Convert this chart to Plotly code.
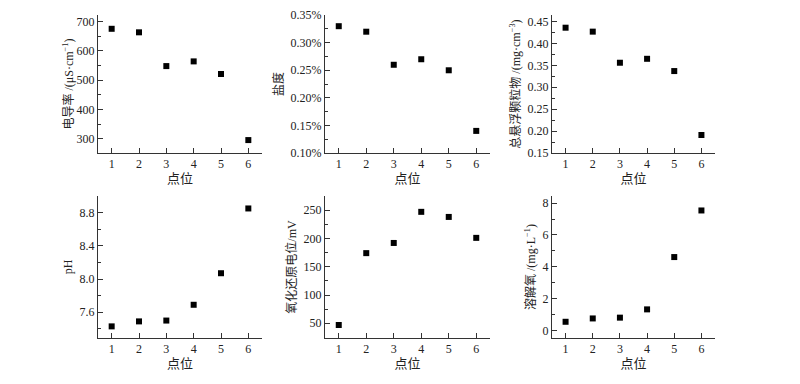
import plotly.graph_objects as go

points = [1, 2, 3, 4, 5, 6]
conductivity = [675, 663, 548, 564, 521, 296]
salinity = [0.33, 0.32, 0.26, 0.27, 0.25, 0.14]
tsp = [0.436, 0.427, 0.356, 0.365, 0.337, 0.191]
ph = [7.43, 7.49, 7.50, 7.69, 8.07, 8.85]
orp = [47, 174, 192, 247, 238, 201]
do = [0.54, 0.75, 0.80, 1.32, 4.61, 7.54]

x_title = "点位"
y_titles = [
    "电导率 /(μS·cm<sup>−1</sup>)",
    "盐度",
    "总悬浮颗粒物 /(mg·cm<sup>−3</sup>)",
    "pH",
    "氧化还原电位/mV",
    "溶解氧 /(mg·L<sup>−1</sup>)",
]
series = [conductivity, salinity, tsp, ph, orp, do]

# page body adds an 8px offset; figure is sized to fit the window
OFF = 8
W, H = 800 - OFF, 384 - OFF
cols = [(98, 262), (325, 490), (552, 715)]
rows = [(15, 153), (196, 338)]

yspecs = [
    dict(range=[252, 722], dtick=100, tick0=0, minor=50, fmt="d", suffix=""),
    dict(range=[0.0999, 0.3503], dtick=0.05, tick0=0, minor=0.025, fmt=".2f", suffix="%"),
    dict(range=[0.1499, 0.465], dtick=0.05, tick0=0, minor=0.025, fmt=".2f", suffix=""),
    dict(range=[7.29, 9.0], dtick=0.4, tick0=0, minor=0.2, fmt=".1f", suffix=""),
    dict(range=[24, 275], dtick=50, tick0=0, minor=25, fmt="d", suffix=""),
    dict(range=[-0.48, 8.45], dtick=2, tick0=0, minor=1, fmt="d", suffix=""),
]
y_standoff = [0, 4, 4, 4, 4, 4]

font_serif = "Liberation Serif, Times New Roman, serif"
font_cjk = "Liberation Serif, Noto Sans CJK SC, serif"

fig = go.Figure()
layout = dict(
    width=W, height=H,
    margin=dict(l=0, r=0, t=0, b=0, autoexpand=False),
    paper_bgcolor="white", plot_bgcolor="white",
    showlegend=False,
    font=dict(family=font_cjk, size=12, color="#222"),
)

for i, (vals, spec, ytitle) in enumerate(zip(series, yspecs, y_titles)):
    r, c = divmod(i, 3)
    x0, x1 = cols[c][0] - OFF, cols[c][1] - OFF
    y0, y1 = rows[r][0] - OFF, rows[r][1] - OFF
    n = "" if i == 0 else str(i + 1)
    fig.add_trace(go.Scatter(
        x=points, y=vals, mode="markers",
        marker=dict(symbol="square", size=6, color="black"),
        xaxis="x" + n, yaxis="y" + n,
    ))
    layout["xaxis" + n] = dict(
        domain=[x0 / W, x1 / W], anchor="y" + n,
        range=[0.5, 6.5], tickvals=points,
        ticks="inside", ticklen=5, tickcolor="#333", tickwidth=1,
        showline=True, linecolor="#333", linewidth=1,
        showgrid=False, zeroline=False, automargin=False,
        tickfont=dict(family=font_serif, size=12, color="#222"),
        title=dict(text=x_title, font=dict(family=font_cjk, size=13, color="#222"), standoff=2),
    )
    layout["yaxis" + n] = dict(
        domain=[1 - y1 / H, 1 - y0 / H], anchor="x" + n,
        range=spec["range"], dtick=spec["dtick"], tick0=spec["tick0"],
        tickformat=spec["fmt"], ticksuffix=spec["suffix"],
        ticks="inside", ticklen=5, tickcolor="#333", tickwidth=1,
        minor=dict(ticks="inside", ticklen=3, dtick=spec["minor"], tick0=0, tickcolor="#333"),
        showline=True, linecolor="#333", linewidth=1,
        showgrid=False, zeroline=False, automargin=False,
        ticklabeloverflow="allow",
        tickfont=dict(family=font_serif, size=12, color="#222"),
        title=dict(text=ytitle, font=dict(family=font_cjk, size=12, color="#222"), standoff=y_standoff[i]),
    )

fig.update_layout(**layout)
fig.write_html("out.html")
